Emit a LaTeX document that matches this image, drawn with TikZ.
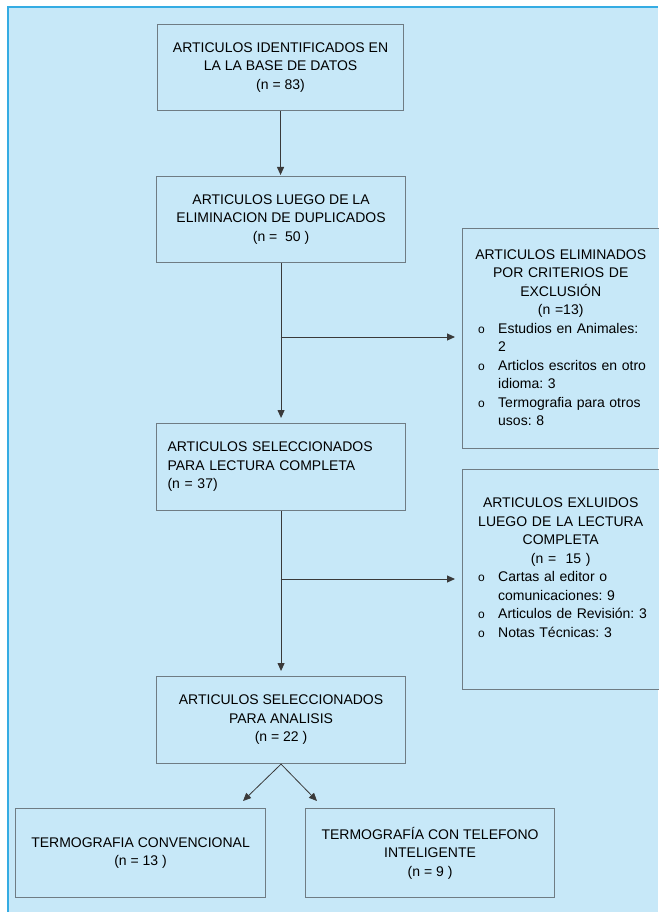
\documentclass[tikz,border=0pt]{standalone}
\usepackage{fontspec}
\setmainfont{Liberation Sans}
\usetikzlibrary{arrows.meta,calc}
\definecolor{bgblue}{HTML}{C7E8F8}
\definecolor{edgeblue}{HTML}{35ACE3}
\definecolor{boxline}{HTML}{6F7C84}
\definecolor{arrowc}{HTML}{3A3A3A}
\setlength\parindent{0pt}
\frenchspacing
\newcommand\bul{\makebox[32pt][l]{\hspace*{12pt}{\fontsize{12}{12}\selectfont o}}}
\newcommand\hang{\hspace*{32pt}}
\begin{document}
\begin{tikzpicture}[x=1pt,y=-1pt,
  box/.style={draw=boxline, line width=1.1pt, fill=bgblue, anchor=north west,
    inner sep=0pt, align=center, font=\fontsize{14}{18.5}\selectfont},
  rtext/.style={anchor=north west, inner sep=0pt, text width=189pt, align=left,
    font=\fontsize{14}{18.5}\selectfont},
  arr/.style={draw=arrowc, line width=1pt, -{Triangle[length=8pt,width=7pt]}},
  darr/.style={draw=arrowc, line width=0.8pt, -{Triangle[length=8pt,width=7pt]}},
  ln/.style={draw=arrowc, line width=1pt}]
\useasboundingbox (0,0) rectangle (658,912);
\fill[white] (0,0) rectangle (658,912);
\fill[bgblue] (8,7) rectangle (658,912);
\draw[edgeblue, line width=1.6pt] (8,912) -- (8,7) -- (658,7);

% main column
\node[box, minimum width=246pt, minimum height=86pt] (b1) at (157,24)
  {ARTICULOS IDENTIFICADOS EN\\LA LA BASE DE DATOS\\(n = 83)};
\node[box, minimum width=249pt, minimum height=86pt] (b2) at (156,176)
  {ARTICULOS LUEGO DE LA\\ELIMINACION DE DUPLICADOS\\(n = ~50 )};
\node[box, minimum width=249pt, minimum height=87pt, align=left,
  text width=227pt, inner xsep=11pt] (b3) at (156,423)
  {ARTICULOS SELECCIONADOS\\PARA LECTURA COMPLETA\\(n = 37)};
\node[box, minimum width=249pt, minimum height=87pt] (b4) at (156,676)
  {ARTICULOS SELECCIONADOS\\PARA ANALISIS\\(n = 22 )};
\node[box, minimum width=250pt, minimum height=89pt] (b5) at (15,808)
  {TERMOGRAFIA CONVENCIONAL\\(n = 13 )};
\node[box, minimum width=249pt, minimum height=89pt] (b6) at (305,808)
  {TERMOGRAFÍA CON TELEFONO\\INTELIGENTE\\(n = 9 )};

% exclusion boxes
\node[box, minimum width=197pt, minimum height=220pt] (ex1) at (462,228) {};
\node[rtext] (ex1t) at (466,249.5)
  {{\centering ARTICULOS ELIMINADOS\\POR CRITERIOS DE\\EXCLUSIÓN\\(n =13)\par}
   \bul Estudios en Animales:\\
   \hang 2\\
   \bul Articlos escritos en otro\\
   \hang idioma: 3\\
   \bul Termografia para otros\\
   \hang usos: 8};
\node[box, minimum width=197pt, minimum height=220pt] (ex2) at (462,469) {};
\node[rtext] (ex2t) at (466,498)
  {{\centering ARTICULOS EXLUIDOS\\LUEGO DE LA LECTURA\\COMPLETA\\(n = ~15 )\par}
   \bul Cartas al editor o\\
   \hang comunicaciones: 9\\
   \bul Articulos de Revisión: 3\\
   \bul Notas Técnicas: 3};

% connectors
\draw[arr, shorten >=1pt] (b1.south) -- (b1.south |- b2.north);
\draw[arr, shorten >=5pt] (b2.south) -- (b3.north);
\draw[arr, shorten >=5pt] (b3.south) -- (b4.north);
\coordinate (j1) at (280.5,337);
\coordinate (j2) at (280.5,579);
\draw[arr, shorten >=7pt] (j1) -- (j1 -| ex1.west);
\draw[arr, shorten >=7pt] (j2) -- (j2 -| ex2.west);
\coordinate (t5) at (243,801);
\coordinate (t6) at (317,801);
\draw[darr] (b4.south) -- (t5);
\draw[darr] (b4.south) -- (t6);
\end{tikzpicture}
\end{document}
